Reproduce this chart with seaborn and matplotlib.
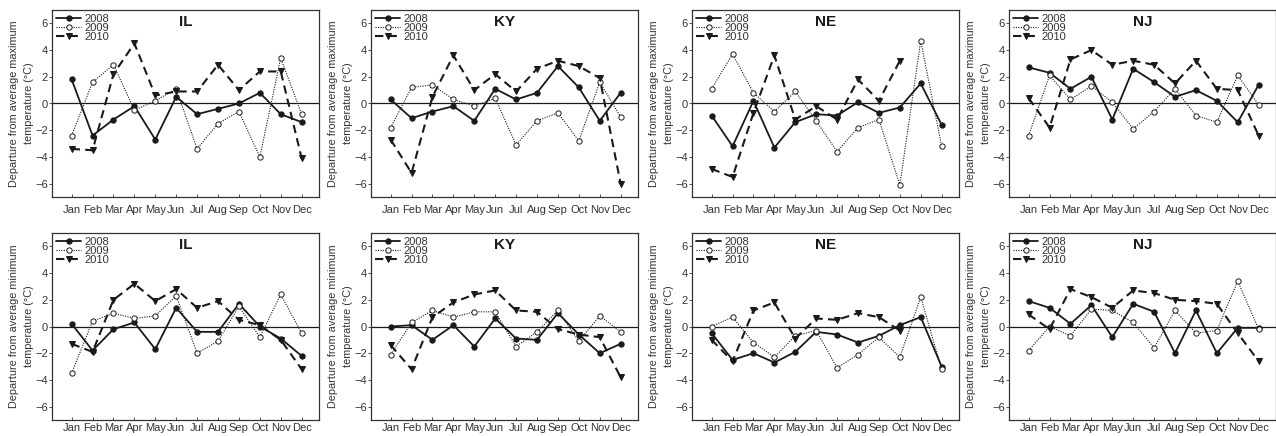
import numpy as np
import pandas as pd
import matplotlib
matplotlib.use("Agg")
import matplotlib.pyplot as plt
import seaborn as sns

months = ["Jan", "Feb", "Mar", "Apr", "May", "Jun", "Jul", "Aug", "Sep", "Oct", "Nov", "Dec"]
years = ["2008", "2009", "2010"]
states = ["IL", "KY", "NE", "NJ"]
nan = np.nan

# Departure from average maximum temperature (°C)
il_max_2008 = [1.8, -2.4, -1.2, -0.2, -2.7, 0.5, -0.8, -0.4, 0.0, 0.8, -0.8, -1.4]
il_max_2009 = [-2.4, 1.6, 2.9, -0.5, 0.2, 1.1, -3.4, -1.5, -0.6, -4.0, 3.4, -0.8]
il_max_2010 = [-3.4, -3.5, 2.2, 4.5, 0.6, 0.9, 0.9, 2.9, 1.0, 2.4, 2.4, -4.1]

ky_max_2008 = [0.3, -1.1, -0.6, -0.2, -1.3, 1.1, 0.3, 0.8, 2.8, 1.2, -1.3, 0.8]
ky_max_2009 = [-1.8, 1.2, 1.4, 0.3, -0.2, 0.4, -3.1, -1.3, -0.7, -2.8, 1.6, -1.0]
ky_max_2010 = [-2.7, -5.2, 0.5, 3.6, 1.0, 2.2, 0.9, 2.6, 3.2, 2.8, 1.9, -6.0]

ne_max_2008 = [-0.9, -3.2, 0.2, -3.3, -1.4, -0.8, -0.9, 0.1, -0.7, -0.3, 1.5, -1.6]
ne_max_2009 = [1.1, 3.7, 0.8, -0.6, 0.9, -1.3, -3.6, -1.8, -1.2, -6.1, 4.7, -3.2]
ne_max_2010 = [-4.9, -5.5, -0.7, 3.6, -1.2, -0.2, -1.2, 1.8, 0.2, 3.2, nan, nan]

nj_max_2008 = [2.7, 2.3, 1.1, 2.0, -1.2, 2.6, 1.6, 0.5, 1.0, 0.2, -1.4, 1.4]
nj_max_2009 = [-2.4, 2.1, 0.3, 1.3, 0.1, -1.9, -0.6, 1.1, -0.9, -1.4, 2.1, -0.1]
nj_max_2010 = [0.4, -1.8, 3.3, 4.0, 2.9, 3.2, 2.9, 1.5, 3.2, 1.1, 1.0, -2.4]

# Departure from average minimum temperature (°C)
il_min_2008 = [0.2, -1.8, -0.2, 0.3, -1.7, 1.4, -0.4, -0.4, 1.7, 0.0, -0.9, -2.2]
il_min_2009 = [-3.5, 0.4, 1.0, 0.6, 0.8, 2.3, -2.0, -1.1, 1.5, -0.8, 2.4, -0.5]
il_min_2010 = [-1.3, -1.9, 2.0, 3.2, 1.9, 2.8, 1.4, 1.9, 0.5, 0.1, -1.0, -3.2]

ky_min_2008 = [0.0, 0.1, -1.0, 0.1, -1.5, 0.6, -0.9, -1.0, 1.0, -0.6, -2.0, -1.3]
ky_min_2009 = [-2.1, 0.3, 1.2, 0.7, 1.1, 1.1, -1.5, -0.4, 1.2, -1.1, 0.8, -0.4]
ky_min_2010 = [-1.4, -3.2, 0.7, 1.8, 2.4, 2.7, 1.2, 1.1, -0.2, -0.6, -0.8, -3.8]

ne_min_2008 = [-0.5, -2.5, -2.0, -2.7, -1.9, -0.4, -0.6, -1.2, -0.7, 0.1, 0.7, -3.0]
ne_min_2009 = [0.0, 0.7, -1.2, -2.3, -0.7, -0.3, -3.1, -2.1, -0.8, -2.3, 2.2, -3.2]
ne_min_2010 = [-1.0, -2.6, 1.2, 1.8, -0.9, 0.6, 0.5, 1.0, 0.7, -0.3, nan, nan]

nj_min_2008 = [1.9, 1.4, 0.2, 1.6, -0.8, 1.7, 1.1, -2.0, 1.2, -2.0, -0.1, -0.1]
nj_min_2009 = [-1.8, 0.0, -0.7, 1.3, 1.2, 0.3, -1.6, 1.2, -0.5, -0.3, 3.4, -0.2]
nj_min_2010 = [0.9, -0.2, 2.8, 2.2, 1.4, 2.7, 2.5, 2.0, 1.9, 1.7, -0.5, -2.6]

y_ticks = [-6, -4, -2, 0, 2, 4, 6]
ylabels = ["Departure from average maximum\ntemperature (°C)",
           "Departure from average minimum\ntemperature (°C)"]

data = {
    ("max", "IL"): [il_max_2008, il_max_2009, il_max_2010],
    ("max", "KY"): [ky_max_2008, ky_max_2009, ky_max_2010],
    ("max", "NE"): [ne_max_2008, ne_max_2009, ne_max_2010],
    ("max", "NJ"): [nj_max_2008, nj_max_2009, nj_max_2010],
    ("min", "IL"): [il_min_2008, il_min_2009, il_min_2010],
    ("min", "KY"): [ky_min_2008, ky_min_2009, ky_min_2010],
    ("min", "NE"): [ne_min_2008, ne_min_2009, ne_min_2010],
    ("min", "NJ"): [nj_min_2008, nj_min_2009, nj_min_2010],
}

sns.set_style("white")
plt.rcParams["font.family"] = ["Liberation Sans", "DejaVu Sans"]
plt.rcParams["axes.unicode_minus"] = True

styles = {
    "2008": dict(linestyle="-", linewidth=1.3, marker="o", markersize=3.8,
                 markerfacecolor="#1a1a1a", markeredgecolor="#1a1a1a"),
    "2009": dict(linestyle=(0, (1, 1.2)), linewidth=0.8, marker="o", markersize=3.8,
                 markerfacecolor="white", markeredgecolor="#1a1a1a", markeredgewidth=0.7),
    "2010": dict(linestyle=(0, (4, 2.5)), linewidth=1.5, marker="v", markersize=4.3,
                 markerfacecolor="#1a1a1a", markeredgecolor="#1a1a1a"),
}

W, H = 1276, 436
fig = plt.figure(figsize=(W / 100, H / 100), dpi=100)
lefts = [52, 371, 692, 1009]
tops = [10, 233]
xpads = [6, 2]
aw, ah = 267, 187

for r, kind in enumerate(["max", "min"]):
    for c, st in enumerate(states):
        ax = fig.add_axes([lefts[c] / W, 1 - (tops[r] + ah) / H, aw / W, ah / H])
        series = data[(kind, st)]
        for yr, vals in zip(years, series):
            df = pd.DataFrame({"month": months, "value": vals}).dropna()
            sns.lineplot(data=df, x="month", y="value", ax=ax, color="#1a1a1a",
                         label=yr, sort=False, **styles[yr])
        ax.axhline(0, color="#1a1a1a", linewidth=0.9, zorder=0)
        ax.set_xlim(-0.94, 11.83)
        ax.set_ylim(-7, 7)
        ax.set_yticks(y_ticks)
        ax.set_xticks(range(12))
        ax.set_xticklabels(months)
        ax.set_xlabel("")
        ax.set_ylabel(ylabels[r], fontsize=7.8, color="#333333", labelpad=0.5, linespacing=1.65)
        ax.tick_params(axis="y", direction="out", length=2, width=0.6, pad=1,
                       labelsize=8, colors="#333333", left=True)
        ax.tick_params(axis="x", direction="in", length=2, width=0.6, pad=xpads[r],
                       labelsize=8, colors="#333333", bottom=True)
        for sp in ax.spines.values():
            sp.set_color("#333333")
            sp.set_linewidth(0.9)
        ax.text(0.5, 0.937, st, transform=ax.transAxes, ha="center", va="center",
                fontsize=11, fontweight="bold", color="#1a1a1a")
        leg = ax.legend(loc="upper left", frameon=False, fontsize=8, handlelength=2.3,
                        labelspacing=-0.1, handletextpad=0.3, borderaxespad=0.3,
                        borderpad=0.05)
        for t in leg.get_texts():
            t.set_color("#333333")

fig.savefig("out.png", dpi=100)
